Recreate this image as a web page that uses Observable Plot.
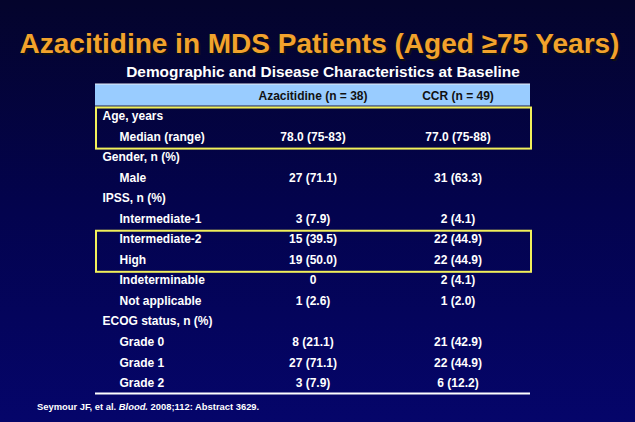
<!DOCTYPE html>
<html>
<head>
<meta charset="utf-8">
<script src="https://cdn.jsdelivr.net/npm/d3@7"></script>
<script src="https://cdn.jsdelivr.net/npm/@observablehq/plot@0.6"></script>
<style>
  html, body { margin: 0; padding: 0; background: #03033f; }
  #slide {
    position: relative; width: 635px; height: 422px; overflow: hidden;
    background: linear-gradient(to bottom, #04042c 0%, #03034e 50%, #05056a 100%);
    font-family: "Liberation Sans", Arial, sans-serif;
  }
  #slide svg { position: absolute; left: 0; top: 0; }
  .title {
    position: absolute; left: 0; width: 639px; top: 30px; text-align: center; line-height: 1;
    font-size: 28px; font-weight: bold; color: #F2A22C; white-space: nowrap;
    text-shadow: 2px 2px 0 #111;
  }
  .subtitle {
    position: absolute; left: 0; width: 646px; top: 63.7px; text-align: center; line-height: 1;
    font-size: 15.4px; font-weight: bold; color: #fff; white-space: nowrap;
  }
  .note {
    position: absolute; left: 37px; top: 401.5px; font-size: 9.4px; font-weight: bold; line-height: 1;
    color: #fff; white-space: nowrap;
  }
</style>
</head>
<body>
<div id="slide">
  <div class="title">Azacitidine in MDS Patients (Aged ≥75 Years)</div>
  <div class="subtitle">Demographic and Disease Characteristics at Baseline</div>
  <div class="note">Seymour JF, et al. <i>Blood.</i> 2008;112: Abstract 3629.</div>
</div>
<script>
const columnHeaders = ["Azacitidine (n = 38)", "CCR (n = 49)"];
const rowLabels = ["Age, years", "Median (range)", "Gender, n (%)", "Male", "IPSS, n (%)",
  "Intermediate-1", "Intermediate-2", "High", "Indeterminable", "Not applicable",
  "ECOG status, n (%)", "Grade 0", "Grade 1", "Grade 2"];
const rowLevels = [1, 2, 1, 2, 1, 2, 2, 2, 2, 2, 1, 2, 2, 2];
const azacitidineValues = ["", "78.0 (75-83)", "", "27 (71.1)", "", "3 (7.9)", "15 (39.5)",
  "19 (50.0)", "0", "1 (2.6)", "", "8 (21.1)", "27 (71.1)", "3 (7.9)"];
const ccrValues = ["", "77.0 (75-88)", "", "31 (63.3)", "", "2 (4.1)", "22 (44.9)",
  "22 (44.9)", "2 (4.1)", "1 (2.0)", "", "21 (42.9)", "22 (44.9)", "6 (12.2)"];
const highlightedGroups = [["Age, years", "Median (range)"], ["Intermediate-2", "High"]];

// table model: row 0 = header, rows 1..n = body; column 0 = labels, 1..2 = values
const rows = rowLabels.map((label, i) => ({label, level: rowLevels[i], r: i + 1,
  values: [azacitidineValues[i], ccrValues[i]]}));
const cells = rows.flatMap(d => d.values.map((v, j) => ({v, r: d.r, c: j + 1})));
const nRows = rows.length + 1, nCols = columnHeaders.length + 1;
const boxes = highlightedGroups.map(g => ({
  r1: rowLabels.indexOf(g[0]) + 1, r2: rowLabels.indexOf(g[g.length - 1]) + 2}));
const font = "'Liberation Sans', Arial, sans-serif";

const chart = Plot.plot({
  width: 635, height: 422,
  marginLeft: 95, marginRight: 105, marginTop: 85, marginBottom: 29,
  style: {background: "transparent", fontFamily: font},
  x: {domain: [0, nCols], axis: null},
  y: {domain: [0, nRows], reverse: true, axis: null},
  marks: [
    Plot.rect([columnHeaders], {x1: 0, x2: nCols, y1: 0, y2: 1, fill: "#99CCFF", insetTop: -1}),
    Plot.ruleY([0], {x1: 0, x2: nCols, stroke: "#e8eef8", strokeWidth: 1, dy: -1.5}),
    Plot.ruleY([1], {x1: 0, x2: nCols, stroke: "#6a7a99", strokeWidth: 1}),
    Plot.text(columnHeaders, {x: (d, i) => i + 1.5, y: 0.5, fill: "#111", fontWeight: "bold",
      fontSize: 12, fontFamily: font}),
    Plot.text(rows.filter(d => d.level === 1), {x: 0, y: d => d.r + 0.5, text: "label",
      textAnchor: "start", dx: 7, fill: "white", fontWeight: "bold", fontSize: 12, fontFamily: font}),
    Plot.text(rows.filter(d => d.level === 2), {x: 0, y: d => d.r + 0.5, text: "label",
      textAnchor: "start", dx: 24, fill: "white", fontWeight: "bold", fontSize: 12, fontFamily: font}),
    Plot.text(cells.filter(d => d.v !== ""), {x: d => d.c + 0.5, y: d => d.r + 0.5, text: "v",
      fill: "white", fontWeight: "bold", fontSize: 12, fontFamily: font}),
    Plot.rect(boxes, {x1: 0, x2: nCols, y1: "r1", y2: "r2", fill: "none",
      stroke: "#F2F05A", strokeWidth: 2, insetTop: 2, insetBottom: -2, insetLeft: 1, insetRight: -1}),
    Plot.ruleY([nRows], {x1: 0, x2: nCols, stroke: "white", strokeWidth: 2})
  ]
});
document.getElementById("slide").appendChild(chart);
</script>
</body>
</html>
